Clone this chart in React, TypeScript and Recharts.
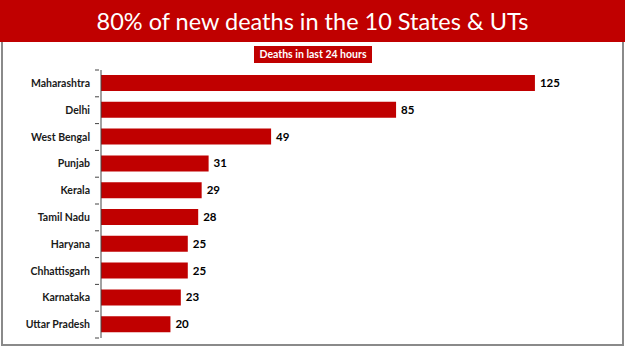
import { BarChart, Bar, XAxis, YAxis, LabelList } from "recharts";

const states = [
  "Maharashtra",
  "Delhi",
  "West Bengal",
  "Punjab",
  "Kerala",
  "Tamil Nadu",
  "Haryana",
  "Chhattisgarh",
  "Karnataka",
  "Uttar Pradesh",
];
const deaths = [125, 85, 49, 31, 29, 28, 25, 25, 23, 20];

const data = states.map((name, i) => ({ name, deaths: deaths[i] }));

const RED = "#C00000";
const FONT = "Lato, 'Open Sans', sans-serif";

// category label plus the little boundary tick Excel draws between rows
const StateTick = ({ x, y, payload, index }: any) => {
  const step = 26.8;
  return (
    <g>
      <line x1={x + 2} x2={x + 6} y1={y - step / 2} y2={y - step / 2} stroke="#444" />
      {index === states.length - 1 && (
        <line x1={x + 2} x2={x + 6} y1={y + step / 2} y2={y + step / 2} stroke="#444" />
      )}
      <text
        x={x - 3}
        y={y}
        dy={3.5}
        textAnchor="end"
        fill="#1a1a1a"
        fontSize={10.5}
        fontWeight={700}
        fontFamily={FONT}
      >
        {payload.value}
      </text>
    </g>
  );
};

export default function App() {
  return (
    <div
      style={{
        position: "absolute",
        left: 0,
        top: 0,
        width: 625,
        height: 351,
        background: "#fff",
        fontFamily: FONT,
      }}
    >
      <div
        style={{
          position: "absolute",
          left: 0,
          top: 0,
          width: 625,
          height: 42,
          background: RED,
          color: "#fff",
          fontSize: 23.5,
          lineHeight: "42px",
          textAlign: "center",
        }}
      >
        80% of new deaths in the 10 States &amp; UTs
      </div>
      <div
        style={{
          position: "absolute",
          left: 1,
          top: 42,
          width: 619,
          height: 302,
          borderLeft: "2px solid #8a8a8a",
          borderRight: "2px solid #8a8a8a",
          borderBottom: "2px solid #8a8a8a",
        }}
      />
      <div
        style={{
          position: "absolute",
          left: 254,
          top: 46,
          width: 118,
          height: 17,
          background: RED,
          color: "#fff",
          fontSize: 10.5,
          fontWeight: 700,
          lineHeight: "17px",
          textAlign: "center",
        }}
      >
        Deaths in last 24 hours
      </div>
      <div style={{ position: "absolute", left: 0, top: 0 }}>
        <BarChart
          width={625}
          height={351}
          data={data}
          layout="vertical"
          margin={{ top: 70, right: 38, bottom: 13, left: 0 }}
        >
          <XAxis type="number" domain={[0, 140]} hide />
          <YAxis
            type="category"
            dataKey="name"
            width={101}
            axisLine={{ stroke: "#444" }}
            tickLine={false}
            tick={<StateTick />}
            interval={0}
          />
          <Bar dataKey="deaths" fill={RED} barSize={16} isAnimationActive={false}>
            <LabelList
              dataKey="deaths"
              position="right"
              offset={5}
              fill="#000"
              fontSize={11.5}
              fontWeight={700}
              fontFamily={FONT}
            />
          </Bar>
        </BarChart>
      </div>
    </div>
  );
}
